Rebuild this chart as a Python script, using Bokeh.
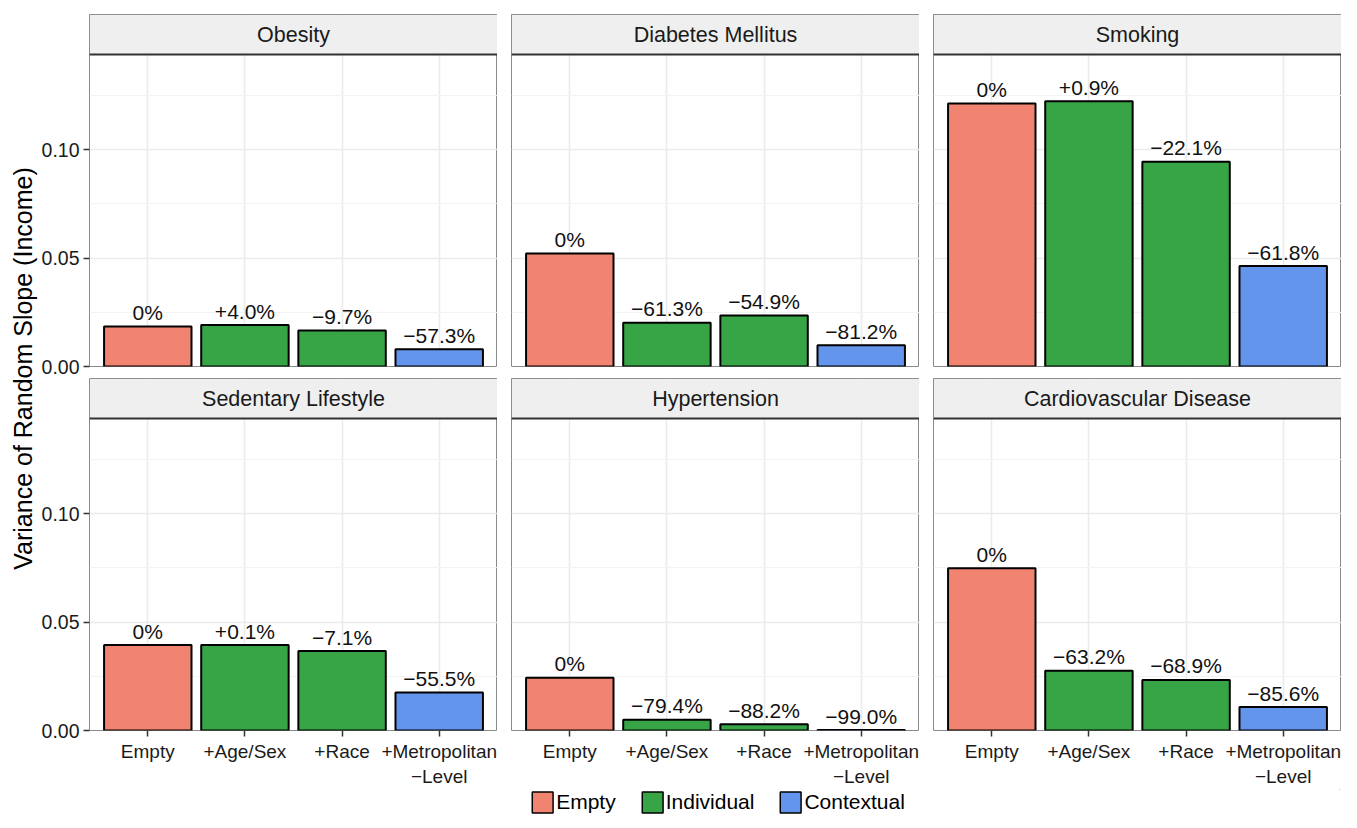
from bokeh.plotting import figure
from bokeh.models import (FactorRange, Range1d, FixedTicker, NumeralTickFormatter,
                          BoxAnnotation, Span, Label, Legend, LegendItem, ColumnDataSource)
from bokeh.layouts import row, column
from bokeh.embed import file_html
from bokeh.resources import INLINE
from bokeh.core.properties import value

# ---------------- data ----------------
conditions = ["Obesity", "Diabetes Mellitus", "Smoking",
              "Sedentary Lifestyle", "Hypertension", "Cardiovascular Disease"]
models = ["Empty", "+Age/Sex", "+Race", "+Metropolitan\n\u2212Level"]
model_types = ["Empty", "Individual", "Individual", "Contextual"]
type_names = ["Empty", "Individual", "Contextual"]
type_colors = ["#F08470", "#37A546", "#6495ED"]

obesity = [0.0184, 0.0191, 0.0166, 0.0079]
diabetes = [0.0521, 0.0202, 0.0235, 0.0098]
smoking = [0.1212, 0.1223, 0.0944, 0.0463]
sedentary = [0.0394, 0.0394, 0.0366, 0.0175]
hypertension = [0.0243, 0.0050, 0.0029, 0.0002]
cardiovascular = [0.0748, 0.0275, 0.0233, 0.0108]

obesity_pct = ["0%", "+4.0%", "\u22129.7%", "\u221257.3%"]
diabetes_pct = ["0%", "\u221261.3%", "\u221254.9%", "\u221281.2%"]
smoking_pct = ["0%", "+0.9%", "\u221222.1%", "\u221261.8%"]
sedentary_pct = ["0%", "+0.1%", "\u22127.1%", "\u221255.5%"]
hypertension_pct = ["0%", "\u221279.4%", "\u221288.2%", "\u221299.0%"]
cardiovascular_pct = ["0%", "\u221263.2%", "\u221268.9%", "\u221285.6%"]

y_title = "Variance of Random Slope (Income)"
y_ticks = [0.0, 0.05, 0.10]
y_minor = [0.025, 0.075, 0.125]

series = [obesity, diabetes, smoking, sedentary, hypertension, cardiovascular]
pcts = [obesity_pct, diabetes_pct, smoking_pct, sedentary_pct, hypertension_pct, cardiovascular_pct]

# ---------------- style / layout ----------------
FONT = "Liberation Sans"
PLOT_H = 312
STRIP_H = 40
FRAME_W = 408
YL_W = 38
LEFT_B = 50
GAP = 14
TOP_B = 14
ROW_GAP = 12
BOTTOM_B = 56
LEG_H = 26
Y_MAX = 0.1438
Y_TOP = Y_MAX * (PLOT_H + STRIP_H) / PLOT_H
STRIP_MID = (Y_MAX + Y_TOP) / 2

color_of = {t: c for t, c in zip(type_names, type_colors)}


def make_panel(title, vals, labels, col, rowi):
    p = figure(
        x_range=FactorRange(factors=models, range_padding=0.05),
        y_range=Range1d(0, Y_TOP),
        frame_width=FRAME_W, frame_height=PLOT_H + STRIP_H,
        min_border_left=LEFT_B if col == 0 else GAP,
        min_border_right=0,
        min_border_top=TOP_B if rowi == 0 else 0,
        min_border_bottom=ROW_GAP if rowi == 0 else BOTTOM_B,
        x_axis_location="below" if rowi == 1 else None,
        y_axis_location="left" if col == 0 else None,
        toolbar_location=None, output_backend="svg",
    )
    p.background_fill_color = "white"
    p.border_fill_color = "white"
    p.outline_line_color = "#8a8a8a"
    p.outline_line_width = 1

    p.xgrid.grid_line_color = "#EBEBEB"
    p.xgrid.grid_line_width = 1.6
    p.ygrid.ticker = FixedTicker(ticks=y_ticks, minor_ticks=y_minor)
    p.ygrid.grid_line_color = "#EBEBEB"
    p.ygrid.grid_line_width = 1.6
    p.ygrid.minor_grid_line_color = "#F3F3F3"
    p.ygrid.minor_grid_line_width = 1.2

    if col == 0:
        ax = p.yaxis[0]
        ax.ticker = FixedTicker(ticks=y_ticks, minor_ticks=[])
        ax.formatter = NumeralTickFormatter(format="0.00")
        ax.axis_line_color = None
        ax.major_tick_out = 6
        ax.major_tick_in = 0
        ax.minor_tick_out = 0
        ax.minor_tick_in = 0
        ax.major_tick_line_color = "#333333"
        ax.major_tick_line_width = 1.5
        ax.major_label_standoff = 4
        ax.major_label_text_font = FONT
        ax.major_label_text_font_size = "19.5px"
        ax.major_label_text_color = "#1a1a1a"
    if rowi == 1:
        ax = p.xaxis[0]
        ax.axis_line_color = None
        ax.major_tick_out = 6
        ax.major_tick_in = 0
        ax.major_tick_line_color = "#333333"
        ax.major_tick_line_width = 1.5
        ax.major_label_standoff = 4
        ax.major_label_text_font = FONT
        ax.major_label_text_font_size = "19px"
        ax.major_label_text_color = "#1a1a1a"

    src = ColumnDataSource(dict(
        model=models, value=vals, label=labels, type=model_types,
        color=[color_of[t] for t in model_types],
    ))
    p.vbar(x="model", top="value", width=0.9, source=src,
           fill_color="color", line_color="black", line_width=2)
    p.text(x="model", y="value", text="label", source=src,
           text_align="center", text_baseline="alphabetic", y_offset=-14,
           text_font=value(FONT), text_font_size="21px", text_color="#111111")

    # facet strip
    p.add_layout(BoxAnnotation(bottom=Y_MAX, fill_color="#EFEFEF", fill_alpha=1.0,
                               line_color="#7a7a7a", line_width=1, line_alpha=1.0))
    p.add_layout(Span(location=Y_MAX, dimension="width", line_color="#333333", line_width=2))
    p.add_layout(Label(x=2.0, y=STRIP_MID, text=title, text_align="center",
                       text_baseline="middle", text_font=FONT, text_font_size="21.5px",
                       text_color="#1a1a1a"))
    return p


panels = [make_panel(conditions[i], series[i], pcts[i], i % 3, i // 3) for i in range(6)]

# y-axis title
YL_H = TOP_B + PLOT_H + STRIP_H + ROW_GAP + PLOT_H + STRIP_H + BOTTOM_B
yl = figure(width=YL_W, height=YL_H, x_range=Range1d(0, YL_W), y_range=Range1d(0, YL_H),
            min_border=0, x_axis_location=None, y_axis_location=None,
            toolbar_location=None, output_backend="svg")
yl.outline_line_color = None
yl.xgrid.visible = False
yl.ygrid.visible = False
yl.add_layout(Label(x=22, y=YL_H - 368, text=y_title, angle=90, angle_units="deg",
                    text_align="center", text_baseline="middle", text_font=FONT,
                    text_font_size="25px", text_color="#000000"))

# legend
TOTAL_W = YL_W + LEFT_B + 3 * FRAME_W + 2 * GAP
lg = figure(width=TOTAL_W, height=LEG_H, x_range=Range1d(0, 1), y_range=Range1d(0, 1),
            min_border=0, min_border_left=YL_W + LEFT_B + 6, x_axis_location=None,
            y_axis_location=None, toolbar_location=None, output_backend="svg")
lg.outline_line_color = None
lg.xgrid.visible = False
lg.ygrid.visible = False
items = []
for name, c in zip(type_names, type_colors):
    # placed outside the visible range: only the legend swatch is shown
    r = lg.vbar(x=[5], top=[5], bottom=[4], width=0.5, fill_color=c,
                line_color="black", line_width=1.5)
    items.append(LegendItem(label=name, renderers=[r]))
legend = Legend(items=items, orientation="horizontal", location="center",
                label_text_font=FONT, label_text_font_size="21px", label_text_color="#000000",
                glyph_width=26, glyph_height=26, label_standoff=1, spacing=23,
                border_line_color=None, background_fill_alpha=0, padding=0, margin=0)
lg.add_layout(legend, "center")

grid = column(row(panels[0], panels[1], panels[2]), row(panels[3], panels[4], panels[5]))
layout = column(row(yl, grid), lg)

open("out.html", "w").write(file_html(layout, INLINE))
